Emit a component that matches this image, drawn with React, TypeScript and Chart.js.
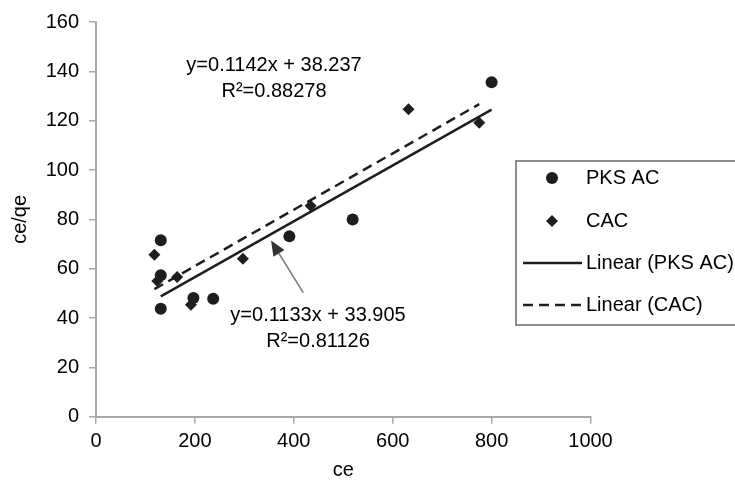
import React, { useEffect, useRef } from "react";
import { Chart, registerables } from "chart.js";

Chart.register(...registerables);

// ---- data ----
const pksX = [131, 131, 131, 197, 237, 391, 519, 800];
const pksY = [71.5, 57.3, 43.8, 48.1, 47.8, 73.1, 79.9, 135.6];
const cacX = [118, 124, 164, 192, 297, 434, 632, 775];
const cacY = [65.7, 55.0, 56.6, 45.4, 64.0, 85.5, 124.6, 119.2];
const pksTrendX = [131, 800];
const pksTrendY = [48.8, 124.5];
const cacTrendX = [118, 775];
const cacTrendY = [51.7, 126.7];
const seriesLabels = ["PKS AC", "CAC", "Linear (PKS AC)", "Linear (CAC)"];
const cacEquation = ["y=0.1142x + 38.237", "R²=0.88278"];
const pksEquation = ["y=0.1133x + 33.905", "R²=0.81126"];
const xAxisTitle = "ce";
const yAxisTitle = "ce/qe";

const FONT = "'Liberation Sans', Arial, sans-serif";
const INK = "#1e1e1e";
const AXIS = "#a8a8a8";

const pts = (xs: number[], ys: number[]) => xs.map((x, i) => ({ x, y: ys[i] }));

const overlay = {
  id: "overlay",
  afterDraw(chart: any) {
    const { ctx, scales } = chart;
    const xs = scales.x;
    const ys = scales.y;
    const px = (v: number) => xs.getPixelForValue(v);
    const py = (v: number) => ys.getPixelForValue(v);
    ctx.save();
    ctx.fillStyle = "#000";
    ctx.font = `20px ${FONT}`;
    ctx.textAlign = "center";
    ctx.textBaseline = "middle";
    // CAC equation (upper)
    ctx.fillText(cacEquation[0], px(360), py(142.5));
    ctx.fillText(cacEquation[1], px(360), py(132));
    // PKS equation (lower)
    ctx.fillText(pksEquation[0], px(449), py(41));
    ctx.fillText(pksEquation[1], px(449), py(30.5));

    // arrow
    const x0 = px(419), y0 = py(50.3);
    const x1 = px(354), y1 = py(71.4);
    const ang = Math.atan2(y1 - y0, x1 - x0);
    const headLen = 15, headW = 6.5;
    const bx = x1 - Math.cos(ang) * headLen;
    const by = y1 - Math.sin(ang) * headLen;
    ctx.strokeStyle = "#7a7a7a";
    ctx.lineWidth = 1.6;
    ctx.beginPath();
    ctx.moveTo(x0, y0);
    ctx.lineTo(bx, by);
    ctx.stroke();
    ctx.fillStyle = "#333";
    ctx.beginPath();
    ctx.moveTo(x1, y1);
    ctx.lineTo(bx + Math.sin(ang) * headW, by - Math.cos(ang) * headW);
    ctx.lineTo(bx - Math.sin(ang) * headW, by + Math.cos(ang) * headW);
    ctx.closePath();
    ctx.fill();

    // legend box
    const L = 516, T = 161, B = 325, R = 760;
    ctx.fillStyle = "#fff";
    ctx.fillRect(L, T, R - L, B - T);
    ctx.strokeStyle = "#8c8c8c";
    ctx.lineWidth = 2;
    ctx.strokeRect(L, T, R - L, B - T);
    const rows = [178, 221, 263, 305];
    const mx = 552, tx = 586;
    ctx.fillStyle = INK;
    ctx.beginPath();
    ctx.arc(mx, rows[0], 6, 0, Math.PI * 2);
    ctx.fill();
    ctx.beginPath();
    ctx.moveTo(mx, rows[1] - 6);
    ctx.lineTo(mx + 6, rows[1]);
    ctx.lineTo(mx, rows[1] + 6);
    ctx.lineTo(mx - 6, rows[1]);
    ctx.closePath();
    ctx.fill();
    ctx.strokeStyle = INK;
    ctx.lineWidth = 2.5;
    ctx.beginPath();
    ctx.moveTo(523, rows[2]);
    ctx.lineTo(582, rows[2]);
    ctx.stroke();
    ctx.setLineDash([10, 6]);
    ctx.beginPath();
    ctx.moveTo(523, rows[3]);
    ctx.lineTo(582, rows[3]);
    ctx.stroke();
    ctx.setLineDash([]);
    ctx.fillStyle = "#000";
    ctx.textAlign = "left";
    seriesLabels.forEach((s, i) => ctx.fillText(s, tx, rows[i]));
    ctx.restore();
  },
};

export default function App() {
  const ref = useRef<HTMLCanvasElement | null>(null);
  useEffect(() => {
    if (!ref.current) return;
    const tickFont = { family: FONT, size: 20 };
    const chart = new Chart(ref.current, {
      type: "scatter",
      data: {
        datasets: [
          {
            label: seriesLabels[2],
            data: pts(pksTrendX, pksTrendY),
            showLine: true,
            borderColor: INK,
            borderWidth: 2.5,
            pointRadius: 0,
            order: 3,
          },
          {
            label: seriesLabels[3],
            data: pts(cacTrendX, cacTrendY),
            showLine: true,
            borderColor: INK,
            borderWidth: 2.5,
            borderDash: [10, 6],
            pointRadius: 0,
            order: 4,
          },
          {
            label: seriesLabels[0],
            data: pts(pksX, pksY),
            pointStyle: "circle",
            pointRadius: 6,
            backgroundColor: INK,
            borderColor: INK,
            borderWidth: 0,
            order: 1,
          },
          {
            label: seriesLabels[1],
            data: pts(cacX, cacY),
            pointStyle: "rectRot",
            pointRadius: 6,
            backgroundColor: INK,
            borderColor: INK,
            borderWidth: 0,
            order: 2,
          },
        ],
      },
      options: {
        responsive: false,
        animation: false,
        layout: { padding: { top: 20.7, right: 144.5, bottom: 0, left: 0 } },
        plugins: { legend: { display: false }, tooltip: { enabled: false } },
        scales: {
          x: {
            type: "linear",
            min: 0,
            max: 1000,
            ticks: {
              stepSize: 200,
              font: tickFont,
              color: "#000",
              padding: 6,
              callback: (v: any) => String(v),
            },
            grid: { drawOnChartArea: false, drawTicks: true, tickLength: 7, color: AXIS, lineWidth: 1.5 },
            border: { display: true, color: AXIS, width: 2 },
            title: {
              display: true,
              text: xAxisTitle,
              font: { family: FONT, size: 20, lineHeight: 1 },
              color: "#000",
              padding: { top: 0, bottom: 1 },
            },
            afterFit: (s: any) => {
              s.height = 481 - 416.7;
            },
          },
          y: {
            type: "linear",
            min: 0,
            max: 160,
            ticks: {
              stepSize: 20,
              font: tickFont,
              color: "#000",
              padding: 10,
              callback: (v: any) => String(v),
            },
            grid: { drawOnChartArea: false, drawTicks: true, tickLength: 7, color: AXIS, lineWidth: 1.5 },
            border: { display: true, color: AXIS, width: 2 },
            title: { display: true, text: yAxisTitle, font: tickFont, color: "#000", padding: { top: 8, bottom: 0 } },
            afterFit: (s: any) => {
              s.width = 96;
            },
          },
        },
      },
      plugins: [overlay],
    });
    return () => chart.destroy();
  }, []);
  return (
    <div style={{ position: "absolute", left: 0, top: 0, width: 735, height: 481, background: "#fff" }}>
      <canvas ref={ref} width={735} height={481} style={{ display: "block" }} />
    </div>
  );
}
